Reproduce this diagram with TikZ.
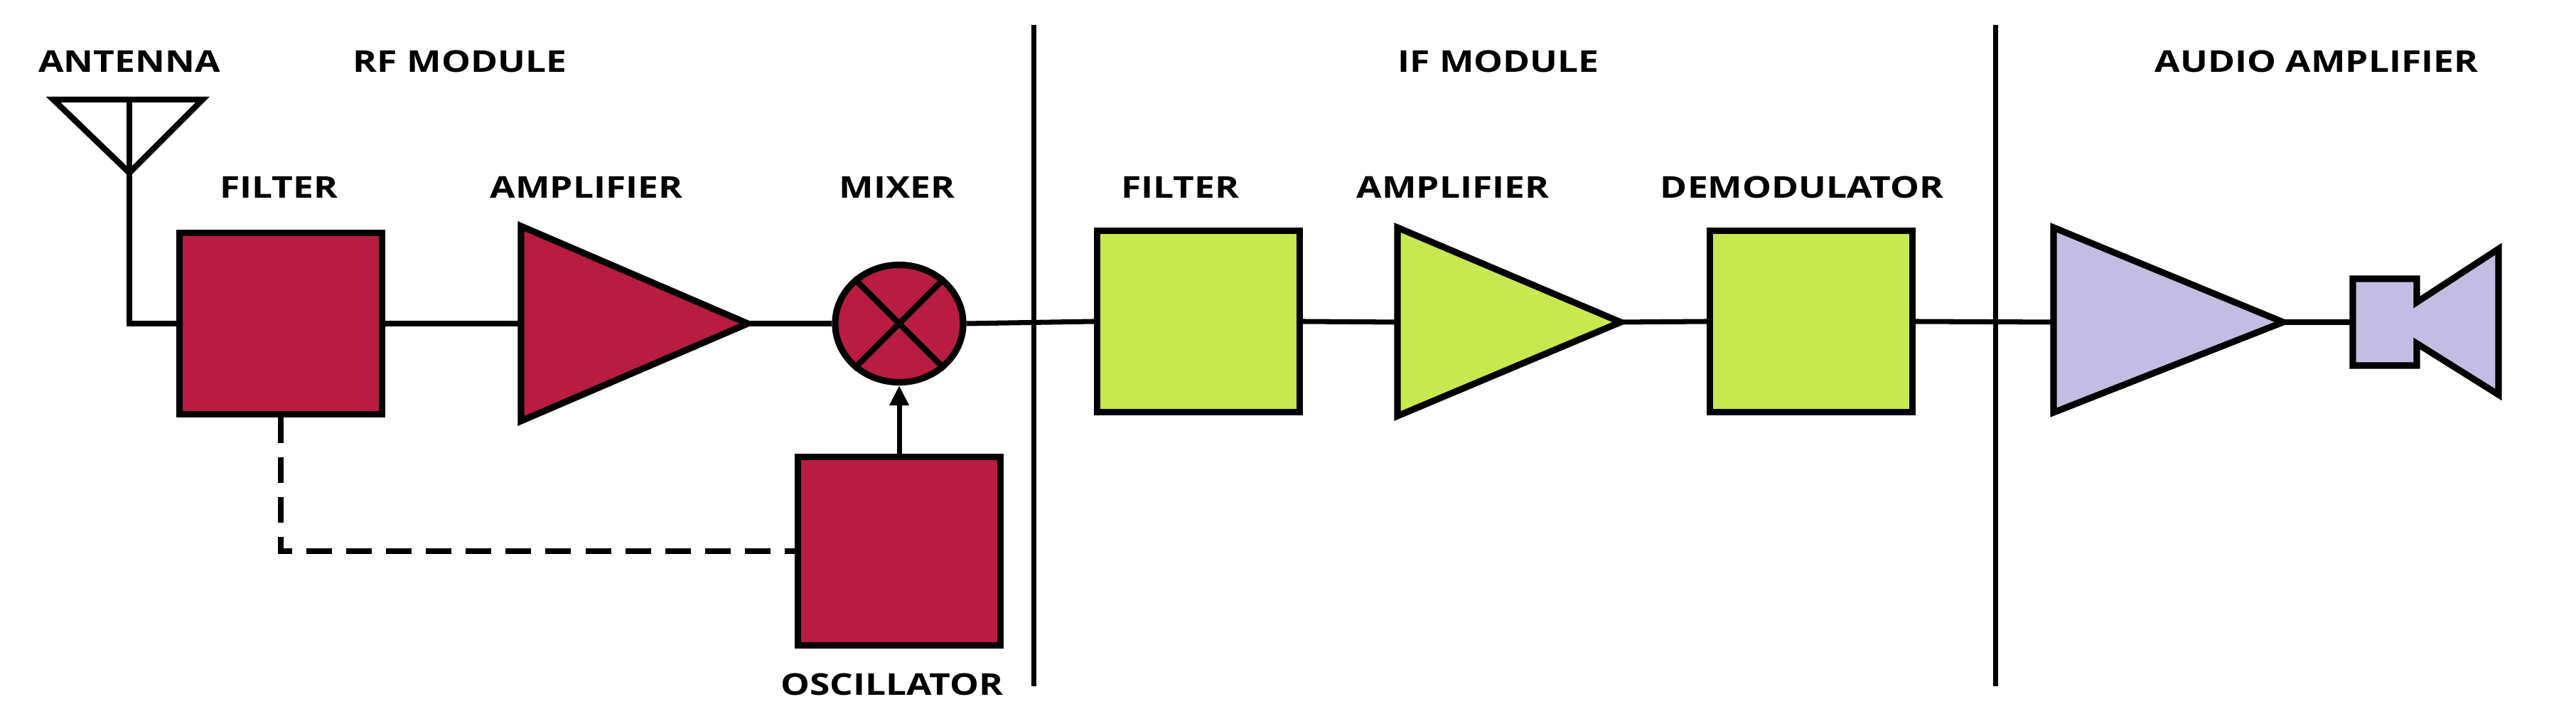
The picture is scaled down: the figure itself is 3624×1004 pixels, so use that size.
\documentclass[tikz,border=0pt]{standalone}
\usepackage{fontspec}
\newfontfamily\lbl{Open Sans}[FakeStretch=1.22]
\usetikzlibrary{arrows.meta,shapes.geometric}
\definecolor{rfc}{HTML}{B81C40}
\definecolor{ifc}{HTML}{C8E84F}
\definecolor{auc}{HTML}{C4BDE3}
\tikzset{
  lab/.style={font=\lbl\bfseries\fontsize{12}{14}\selectfont, inner sep=0pt},
  blk/.style={draw, line width=2.6pt, minimum width=2.85cm, minimum height=2.55cm, inner sep=0pt},
  wire/.style={line width=2pt},
  tri/.style={draw, line width=2.6pt, line join=miter},
}
\begin{document}
\begin{tikzpicture}[x={(0.01cm,0)}, y={(0,-0.01cm)}]
\useasboundingbox (0,0) rectangle (3624,1004);
% dividers
\draw[wire] (1454,35) -- (1454,965);
\draw[wire] (2807,35) -- (2807,965);
% titles
\node[lab] (tant) at (182,86) {ANTENNA};
\node[lab] (trf) at (647,86) {RF MODULE};
\node[lab] (tif) at (2108,86) {IF MODULE};
\node[lab] (tau) at (3259,86) {AUDIO AMPLIFIER};
\node[lab] (l1) at (392,263) {FILTER};
\node[lab] (l2) at (825,263) {AMPLIFIER};
\node[lab] (l3) at (1262,263) {MIXER};
\node[lab] (l4) at (1660,263) {FILTER};
\node[lab] (l5) at (2044,263) {AMPLIFIER};
\node[lab] (l6) at (2535,263) {DEMODULATOR};
\node[lab] (l7) at (1255,962) {OSCILLATOR};
% antenna
\coordinate (antL) at (75,140); \coordinate (antR) at (285,140);
\coordinate (antA) at (182,243); \coordinate (antC) at (182,140);
\coordinate (antB) at (182,455);
\draw[wire, line width=2.4pt, line join=miter] (antL) -- (antR) -- (antA) -- cycle;
\draw[wire, line width=2.4pt] (antC) -- (antA);
% RF blocks
\node[blk, fill=rfc] (rff) at (395,455) {};
\coordinate (rfaL) at (733,455); \coordinate (rfaA) at (1052,455);
\draw[tri, fill=rfc] (733,318) -- (rfaA) -- (733,592) -- cycle;
\node[draw, ellipse, line width=2.6pt, fill=rfc, minimum width=1.8cm, minimum height=1.65cm, inner sep=0pt] (mix) at (1265,455) {};
\draw[line width=2.4pt] (mix.135) -- (mix.-45) (mix.45) -- (mix.-135);
\node[blk, fill=rfc, minimum height=2.65cm] (osc) at (1265,775) {};
% IF blocks
\node[blk, fill=ifc] (iff) at (1686,452) {};
\coordinate (ifaL) at (1966,453); \coordinate (ifaA) at (2280,453);
\draw[tri, fill=ifc] (1966,320) -- (ifaA) -- (1966,585) -- cycle;
\node[blk, fill=ifc] (dem) at (2548,452) {};
% audio
\coordinate (auL) at (2889,453); \coordinate (auA) at (3212,453);
\draw[tri, fill=auc] (2889,320) -- (auA) -- (2889,580) -- cycle;
\coordinate (spk) at (3310,453);
\draw[tri, fill=auc] (3310,392) -- (3400,392) -- (3400,425) -- (3515,350) -- (3515,555) -- (3400,483) -- (3400,514) -- (3310,514) -- cycle;
% wires
\draw[wire] (antA) -- (antB) -- (rff.west);
\draw[wire] (rff.east) -- (rfaL);
\draw[wire] (rfaA) -- (mix.west);
\draw[wire] (mix.east) -- (iff.west);
\draw[wire] (iff.east) -- (ifaL);
\draw[wire] (ifaA) -- (dem.west);
\draw[wire] (dem.east) -- (auL);
\draw[wire] (auA) -- (spk);
\draw[wire, -{Triangle[length=0.28cm,width=0.26cm]}] (osc.north) -- (mix.south);
\draw[wire, dash pattern=on 0.36cm off 0.2cm] (rff.south) |- (osc.west);
\end{tikzpicture}
\end{document}
